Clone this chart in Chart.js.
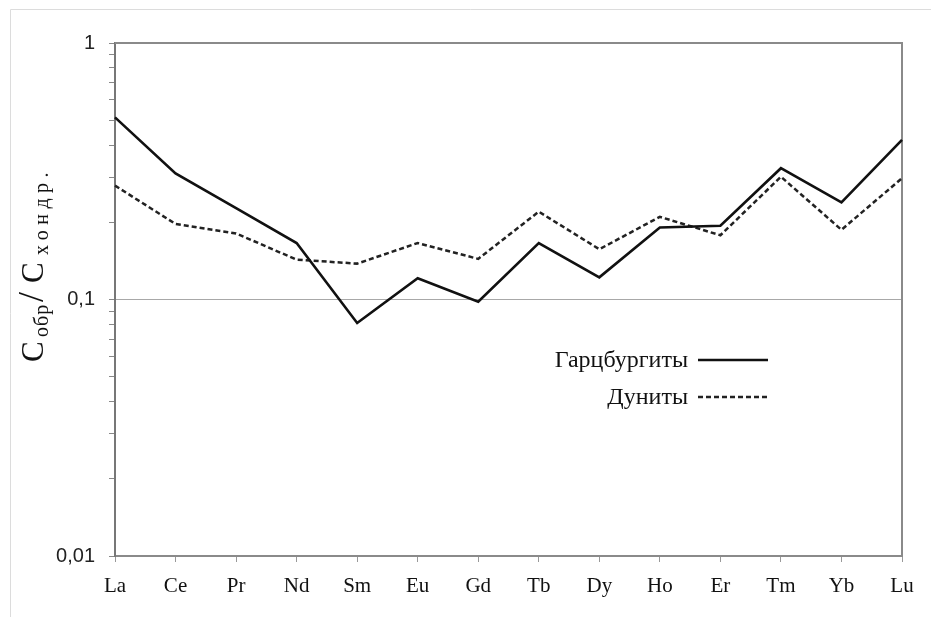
<!DOCTYPE html>
<html>
<head>
<meta charset="utf-8">
<script src="https://cdn.jsdelivr.net/npm/chart.js@4.4.1/dist/chart.umd.min.js"></script>
<style>
  body { margin: 0; background: #fff; }
  #wrap { width: 931px; height: 617px; }
</style>
</head>
<body>
<div id="wrap"><canvas id="myChart" width="931" height="617"></canvas></div>
<script>
const elements = ['La', 'Ce', 'Pr', 'Nd', 'Sm', 'Eu', 'Gd', 'Tb', 'Dy', 'Ho', 'Er', 'Tm', 'Yb', 'Lu'];
const harzburgites = [0.513, 0.310, 0.227, 0.166, 0.081, 0.121, 0.098, 0.166, 0.122, 0.191, 0.194, 0.325, 0.239, 0.419];
const dunites = [0.278, 0.197, 0.181, 0.143, 0.138, 0.166, 0.144, 0.220, 0.157, 0.210, 0.178, 0.301, 0.187, 0.297];
const majorTicks = [0.01, 0.1, 1];
const majorLabels = ['0,01', '0,1', '1'];

function isMajor(v) {
  return majorTicks.findIndex(m => Math.abs(v - m) < 1e-9);
}

// frame, top/right borders of the plot, y title, legend
const decor = {
  id: 'decor',
  beforeDraw(chart) {
    const c = chart.ctx;
    c.save();
    c.strokeStyle = '#dcdcdc';
    c.lineWidth = 1;
    c.beginPath();
    c.moveTo(10.5, 617);
    c.lineTo(10.5, 9.5);
    c.lineTo(931, 9.5);
    c.stroke();
    c.restore();
  },
  beforeDatasetsDraw(chart) {
    const a = chart.chartArea;
    const c = chart.ctx;
    c.save();
    c.strokeStyle = '#8a8a8a';
    c.lineWidth = 2;
    c.beginPath();
    c.moveTo(a.left, a.top);
    c.lineTo(a.right, a.top);
    c.lineTo(a.right, a.bottom);
    c.stroke();
    c.restore();
  },
  afterDraw(chart) {
    const c = chart.ctx;
    // y axis title: text, size, offset along, baseline shift, letter spacing
    c.save();
    c.translate(43, 362);
    c.rotate(-Math.PI / 2);
    c.fillStyle = '#111';
    c.textBaseline = 'alphabetic';
    c.textAlign = 'left';
    const parts = [
      ['С', 31, 0, 0, 0],
      ['обр', 20, 25, 5, 1],
      ['/', 36, 60, 0, 0],
      ['С', 31, 79, 0, 0],
      ['хондр.', 20, 107, 5, 5.5]
    ];
    parts.forEach(p => {
      c.font = p[1] + 'px "Liberation Serif"';
      c.letterSpacing = p[4] + 'px';
      c.fillText(p[0], p[2], p[3]);
    });
    c.restore();

    // legend
    c.save();
    c.font = '24px "Liberation Serif"';
    c.fillStyle = '#111';
    c.textAlign = 'right';
    c.textBaseline = 'alphabetic';
    chart.data.datasets.forEach((ds, i) => {
      const y = 360 + i * 37;
      c.fillText(ds.label, 688, y + 7);
      c.strokeStyle = ds.borderColor;
      c.lineWidth = 2.5;
      c.setLineDash(ds.borderDash || []);
      c.beginPath();
      c.moveTo(698, y);
      c.lineTo(768, y);
      c.stroke();
    });
    c.restore();
  }
};

const ctx = document.getElementById('myChart').getContext('2d');
new Chart(ctx, {
  type: 'line',
  data: {
    labels: elements,
    datasets: [{
      label: 'Гарцбургиты',
      data: harzburgites,
      borderColor: '#111',
      borderWidth: 2.6,
      pointRadius: 0,
      tension: 0
    }, {
      label: 'Дуниты',
      data: dunites,
      borderColor: '#222',
      borderWidth: 2.5,
      borderDash: [5, 3],
      pointRadius: 0,
      tension: 0
    }]
  },
  options: {
    responsive: false,
    animation: false,
    layout: { padding: { top: 43, right: 29, left: 0, bottom: 0 } },
    plugins: { legend: { display: false }, tooltip: { enabled: false } },
    scales: {
      x: {
        type: 'category',
        offset: false,
        afterFit(scale) { scale.height = 61; },
        grid: { drawOnChartArea: false, tickLength: 6, tickColor: '#999' },
        border: { color: '#8a8a8a', width: 2 },
        ticks: {
          color: '#111',
          padding: 12,
          maxRotation: 0,
          autoSkip: false,
          font: { family: '"Liberation Serif"', size: 21 }
        }
      },
      y: {
        type: 'logarithmic',
        min: 0.01,
        max: 1,
        afterFit(scale) { scale.width = 115; },
        afterBuildTicks(scale) {
          const t = [];
          [0.01, 0.1].forEach(d => {
            for (let m = 1; m < 10; m++) t.push({ value: +(m * d).toPrecision(3) });
          });
          t.push({ value: 1 });
          scale.ticks = t;
        },
        grid: {
          color: c => (c.tick && Math.abs(c.tick.value - 0.1) < 1e-9) ? '#a8a8a8' : 'rgba(0,0,0,0)',
          tickColor: '#888',
          tickLength: 6
        },
        border: { color: '#777', width: 2 },
        ticks: {
          color: '#222',
          padding: 14,
          autoSkip: false,
          font: { family: '"Liberation Sans"', size: 20 },
          callback: v => {
            const i = isMajor(v);
            return i >= 0 ? majorLabels[i] : '';
          }
        }
      }
    }
  },
  plugins: [decor]
});
</script>
</body>
</html>
